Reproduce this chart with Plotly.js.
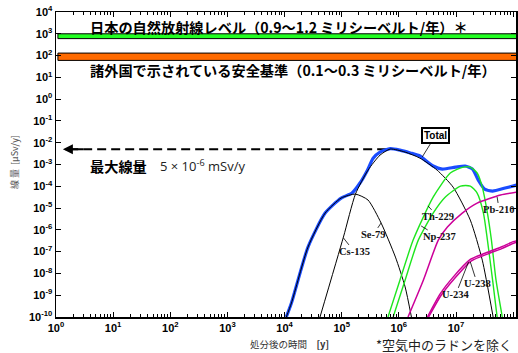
<!DOCTYPE html>
<html><head><meta charset="utf-8">
<script src="https://cdn.plot.ly/plotly-3.0.1.min.js"></script>
<style>html,body{margin:0;padding:0;background:#fff}#chart{width:518px;height:353px}</style>
</head><body><div id="chart"></div>
<script>
// ---- data (exponents of 10: log10(years), log10(µSv/y)) ----
const totalLogX = [4.03,4.12,4.41,4.71,4.99,5.18,5.32,5.45,5.55,5.67,5.85,6.02,6.20,6.37,6.46,6.60,6.76,6.99,7.16,7.29,7.39,7.50,7.64,7.86,8.07];
const totalLogY = [-10,-9.36,-6.79,-5.23,-4.54,-4.31,-3.85,-3.26,-2.71,-2.43,-2.27,-2.34,-2.47,-2.61,-2.80,-3.07,-3.21,-3.12,-3.07,-3.21,-3.72,-4.13,-4.22,-4.08,-3.94];
const se79LogX = [4.03,4.12,4.41,4.71,4.99,5.24,5.46,5.69,5.94,6.11,6.22];
const se79LogY = [-10,-9.36,-6.79,-5.23,-4.54,-4.36,-4.63,-5.69,-7.25,-8.62,-10];
const cs135LogX = [4.62,5.03,5.24,5.46,5.67,5.85,6.11,6.37,6.67,6.95,7.25,7.46,7.65];
const cs135LogY = [-10,-6.33,-4.36,-3.26,-2.57,-2.29,-2.43,-2.71,-3.26,-4.04,-5.55,-7.39,-10];
const th229LogX = [5.81,6.02,6.25,6.60,6.90,7.13,7.25,7.37,7.46,7.55,7.62,7.70,7.81];
const th229LogY = [-10,-8.30,-6.47,-4.50,-3.39,-3.12,-3.12,-3.39,-4.04,-5.23,-6.47,-8.30,-10];
const np237LogX = [5.90,6.11,6.34,6.60,6.81,7.08,7.25,7.37,7.48,7.55,7.64,7.72];
const np237LogY = [-10,-8.30,-6.47,-5.23,-4.50,-3.99,-3.99,-4.31,-5.23,-6.47,-8.30,-10];
const pb210LogX = [6.16,6.43,6.69,6.85,7.11,7.37,7.78,8.07];
const pb210LogY = [-10,-8.30,-6.47,-5.87,-5.23,-4.77,-4.40,-4.27];
const u234LogX = [6.50,6.72,6.95,7.25,7.55,7.78,8.00,8.07];
const u234LogY = [-10,-8.95,-8.17,-7.36,-7.03,-6.80,-6.54,-6.50];
const u238LogX = [6.52,6.74,6.97,7.27,7.57,7.80,8.02,8.07];
const u238LogY = [-10,-9.00,-8.24,-7.42,-7.09,-6.86,-6.60,-6.57];
const naturalLevel = [600, 1000];      // µSv/y band (green)
const safetyStandard = [60, 130];      // µSv/y band (orange)
const bandYears = [1.08, 1.3e8];
const maxDose = 5e-3;                  // µSv/y
const maxDoseYears = [1.7, 7.1e5];
const xExponents = [0,1,2,3,4,5,6,7,8];
const yExponents = [-10,-9,-8,-7,-6,-5,-4,-3,-2,-1,0,1,2,3,4];
const nuclideLabels = [
  {name:'Cs-135', lx:5.03, ly:-6.37, ax:11, ay:14},
  {name:'Se-79',  lx:5.69, ly:-5.68, ax:-8, ay:12},
  {name:'Th-229', lx:6.51, ly:-4.90, ax:10, ay:11},
  {name:'Np-237', lx:6.39, ly:-5.82, ax:18, ay:11},
  {name:'Pb-210', lx:7.72, ly:-4.49, ax:2,  ay:13},
  {name:'U-238',  lx:7.25, ly:-7.47, ax:7,  ay:22},
  {name:'U-234',  lx:7.22, ly:-7.47, ax:-13,ay:33}
];

const p10 = a => a.map(v => Math.pow(10, v));
const BLACK='#000', GREEN='#1ee61e', MAG='#cc0099', BLUE='#1a4cff';

function line(lx, ly, color, width){
  return {x:p10(lx), y:p10(ly), type:'scatter', mode:'lines', line:{color:color, width:width, shape:'spline', smoothing:0.6}, hoverinfo:'skip'};
}
function band(vals, fill){
  return {x:[bandYears[0],bandYears[1],bandYears[1],bandYears[0],bandYears[0]],
          y:[vals[0],vals[0],vals[1],vals[1],vals[0]], type:'scatter', mode:'lines',
          fill:'toself', fillcolor:fill, line:{color:'#000', width:1}, hoverinfo:'skip'};
}

const traces = [
  band(naturalLevel, '#22ff22'),
  band(safetyStandard, '#ff6a00'),
  {x:maxDoseYears, y:[maxDose,maxDose], type:'scatter', mode:'lines', line:{color:'#000', width:2, dash:'9px,5px'}, hoverinfo:'skip'},
  line(totalLogX, totalLogY, BLUE, 3.2),
  line(se79LogX, se79LogY, BLACK, 1),
  line(cs135LogX, cs135LogY, BLACK, 1),
  line(th229LogX, th229LogY, GREEN, 1.4),
  line(np237LogX, np237LogY, GREEN, 1.4),
  line(pb210LogX, pb210LogY, MAG, 1.5),
  line(u234LogX, u234LogY, MAG, 1.5),
  line(u238LogX, u238LogY, MAG, 1.5)
];

const annotations = [];
const cjk = '"Noto Sans CJK JP", "Noto Sans", sans-serif';
annotations.push({xref:'paper', yref:'paper', x:0.07, y:(353-27-36)/305, xanchor:'left', yanchor:'middle', showarrow:false,
  text:'<b>日本の自然放射線レベル（0.9～1.2 ミリシーベルト/年）＊</b>', font:{family:cjk, size:14.2, color:'#000'}});
annotations.push({xref:'paper', yref:'paper', x:0.07, y:(353-70-36)/305, xanchor:'left', yanchor:'middle', showarrow:false,
  text:'<b>諸外国で示されている安全基準（0.1～0.3 ミリシーベルト/年）</b>', font:{family:cjk, size:14.2, color:'#000'}});
annotations.push({xref:'paper', yref:'paper', x:0.07, y:(353-166-36)/305, xanchor:'left', yanchor:'middle', showarrow:false,
  text:'<b>最大線量</b>', font:{family:cjk, size:14.2, color:'#000'}});
annotations.push({xref:'paper', yref:'paper', x:(158-56)/460, y:(353-166-36)/305, xanchor:'left', yanchor:'middle', showarrow:false,
  text:'5 × 10<sup>-6</sup> mSv/y', font:{family:'"Open Sans", "Noto Sans", sans-serif', size:13, color:'#222'}});
// arrow head of the max dose line
annotations.push({x:0.12, y:Math.log10(maxDose), axref:'x', ayref:'y', ax:0.5, ay:Math.log10(maxDose), showarrow:true,
  arrowhead:2, arrowsize:1, arrowwidth:2, arrowcolor:'#000', text:''});
// Total label
annotations.push({x:6.41, y:-2.65, ax:13, ay:-21, showarrow:true, arrowhead:0, arrowwidth:0.8, arrowcolor:'#000',
  text:'<b>Total</b>', font:{family:'Arial, "Liberation Sans", sans-serif', size:10, color:'#000'},
  bordercolor:'#000', borderwidth:2, borderpad:1, bgcolor:'#fff'});
nuclideLabels.forEach(l => annotations.push({x:l.lx, y:l.ly, ax:l.ax, ay:l.ay, showarrow:true, arrowhead:0, arrowwidth:0.8,
  arrowcolor:'#000', text:'<b>'+l.name+'</b>', font:{family:'"Liberation Serif", "DejaVu Serif", serif', size:10.5, color:'#111'}}));
// axis titles
annotations.push({xref:'paper', yref:'paper', x:-(56-14)/460, y:(353-162-36)/305, textangle:-90, showarrow:false, xanchor:'center', yanchor:'middle',
  text:'線 量  [µSv/y]', font:{family:cjk, size:9, color:'#555'}});
annotations.push({xref:'paper', yref:'paper', x:(248-56)/460, y:-(344-317)/305, xanchor:'left', yanchor:'middle', showarrow:false,
  text:'処分後の時間　<b>[y]</b>', font:{family:cjk, size:9.5, color:'#333'}});
annotations.push({xref:'paper', yref:'paper', x:(374-56)/460, y:-(344-317)/305, xanchor:'left', yanchor:'middle', showarrow:false,
  text:'*空気中のラドンを除く', font:{family:cjk, size:13, color:'#222'}});

const supLabel = e => '<b>10<sup>'+e+'</sup></b>';
const layout = {
  width:518, height:353, margin:{l:56, r:2, t:12, b:36},
  paper_bgcolor:'#fff', plot_bgcolor:'#fff', showlegend:false,
  xaxis:{type:'log', range:[0, 8.05], tickmode:'array', tickvals:p10(xExponents), ticktext:xExponents.map(supLabel),
    ticks:'inside', ticklen:5, tickwidth:1, tickcolor:'#000', showgrid:false, zeroline:false,
    showline:true, linecolor:'#000', linewidth:1.5, mirror:'ticks',
    minor:{tickmode:'linear', dtick:'D1', ticks:'inside', ticklen:3, tickcolor:'#000', showgrid:false},
    tickfont:{family:'Arial, "Liberation Sans", sans-serif', size:11, color:'#000'}},
  yaxis:{type:'log', range:[-10, 4], tickmode:'array', tickvals:p10(yExponents), ticktext:yExponents.map(supLabel),
    ticks:'inside', ticklen:5, tickwidth:1, tickcolor:'#000', showgrid:false, zeroline:false,
    showline:true, linecolor:'#000', linewidth:1.5, mirror:'ticks',
    tickfont:{family:'Arial, "Liberation Sans", sans-serif', size:11, color:'#000'}},
  annotations:annotations
};
Plotly.newPlot('chart', traces, layout, {staticPlot:true, displayModeBar:false});
</script></body></html>
